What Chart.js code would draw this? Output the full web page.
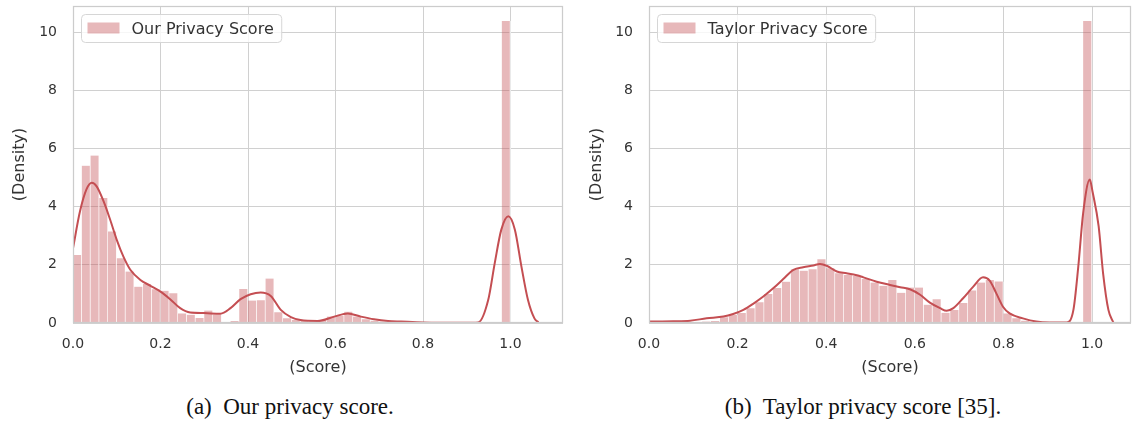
<!DOCTYPE html>
<html>
<head>
<meta charset="utf-8">
<script src="https://cdn.jsdelivr.net/npm/chart.js@4.4.1/dist/chart.umd.min.js"></script>
<style>
  body { margin: 0; background: #fff; width: 1133px; height: 428px; position: relative; overflow: hidden; }
  canvas { position: absolute; top: 0; }
  #ours { left: 0; }
  #taylor { left: 577px; }
  .cap { position: absolute; top: 395px; line-height: 24px; font-family: "Liberation Serif", serif; font-size: 23px;
         color: #111; white-space: nowrap; transform: translateX(-50%); }
</style>
</head>
<body>
<canvas id="ours" width="570" height="380"></canvas>
<canvas id="taylor" width="556" height="380"></canvas>
<div class="cap" style="left:290px">(a)&nbsp; Our privacy score.</div>
<div class="cap" style="left:863px">(b)&nbsp; Taylor privacy score [35].</div>
<script>
// histogram bins (centres, width 0.02)
const binCenters = [0.01,0.03,0.05,0.07,0.09,0.11,0.13,0.15,0.17,0.19,
                    0.21,0.23,0.25,0.27,0.29,0.31,0.33,0.35,0.37,0.39,
                    0.41,0.43,0.45,0.47,0.49,0.51,0.53,0.55,0.57,0.59,
                    0.61,0.63,0.65,0.67,0.69,0.71,0.73,0.75,0.77,0.79,
                    0.81,0.83,0.85,0.87,0.89,0.91,0.93,0.95,0.97,0.99];

const ourHist = [2.34,5.41,5.76,4.30,3.15,2.23,1.77,1.25,1.34,1.16,
                 1.11,1.02,0.33,0.28,0.17,0.43,0.29,0.02,0.07,1.17,
                 0.77,0.78,1.53,0.37,0.16,0.10,0.07,0.07,0.10,0.22,
                 0.24,0.39,0.22,0.13,0.08,0.05,0.03,0.02,0.01,0.01,
                 0,0,0,0,0,0,0,0,0,10.38];

const ourKdeX = [0.000,0.016,0.031,0.043,0.054,0.070,0.085,0.100,0.115,0.131,
                 0.154,0.177,0.200,0.222,0.245,0.268,0.299,0.337,0.360,0.383,
                 0.406,0.429,0.452,0.475,0.498,0.520,0.559,0.597,0.628,0.658,
                 0.688,0.720,0.750,0.800,0.900,0.926,0.949,0.964,0.979,0.995,
                 1.010,1.025,1.040,1.055,1.064];
const ourKdeY = [2.57,3.84,4.60,4.82,4.70,4.18,3.55,2.86,2.29,1.83,
                 1.48,1.28,1.08,0.82,0.51,0.36,0.34,0.32,0.51,0.82,
                 0.99,1.05,0.93,0.45,0.20,0.10,0.07,0.22,0.33,0.22,
                 0.13,0.07,0.05,0.02,0.01,0.02,0.79,2.06,3.21,3.67,
                 3.21,1.94,0.79,0.15,0.02];

const taylorHist = [0.01,0.01,0.02,0.02,0.03,0.03,0.05,0.07,0.20,0.28,
                    0.34,0.51,0.71,1.00,1.20,1.42,1.85,1.80,1.85,2.19,
                    1.88,1.71,1.65,1.62,1.51,1.39,1.28,1.48,1.04,1.22,
                    1.22,0.63,0.82,0.35,0.45,0.69,1.12,1.39,1.48,1.43,
                    0.33,0.16,0.08,0.03,0.01,0,0,0,0,10.38];

const taylorKdeX = [0.000,0.055,0.093,0.130,0.168,0.190,0.213,0.235,0.258,0.281,
                    0.303,0.326,0.348,0.371,0.386,0.401,0.424,0.446,0.469,0.484,
                    0.514,0.544,0.567,0.589,0.612,0.634,0.657,0.672,0.687,0.709,
                    0.732,0.754,0.769,0.784,0.799,0.814,0.844,0.874,0.904,0.943,
                    0.958,0.969,0.980,0.995,1.001,1.015,1.025,1.037,1.048];
const taylorKdeY = [0.05,0.06,0.08,0.16,0.22,0.31,0.45,0.66,0.91,1.20,
                    1.51,1.83,1.92,1.98,2.03,1.97,1.77,1.71,1.64,1.57,
                    1.42,1.31,1.23,1.16,0.97,0.70,0.51,0.42,0.51,0.85,
                    1.25,1.57,1.46,1.02,0.56,0.33,0.16,0.05,0.02,0.02,
                    0.45,1.94,3.78,4.93,4.53,3.32,1.71,0.45,0.02];

const xTicks = [0, 0.2, 0.4, 0.6, 0.8, 1.0];
const yTicks = [0, 2, 4, 6, 8, 10];

const red = 'rgb(196,78,82)';
const redFill = 'rgba(196,78,82,0.4)';
const gridColor = '#d0d0d0';
const textColor = '#333';

Chart.defaults.font.family = '"DejaVu Sans", sans-serif';

// axes frame on all four sides
const frame = {
  id: 'frame',
  afterDatasetsDraw(chart) {
    const { ctx, chartArea: a } = chart;
    ctx.save();
    ctx.strokeStyle = '#cccccc';
    ctx.lineWidth = 1.25;
    ctx.strokeRect(Math.round(a.left) + 0.5, Math.round(a.top) + 0.5,
                   Math.round(a.right - a.left) - 1, Math.round(a.bottom - a.top) - 1);
    ctx.restore();
  }
};

// matplotlib-like legend box in the upper left of the plot
const boxLegend = {
  id: 'boxLegend',
  afterDraw(chart) {
    const ds = chart.data.datasets.find(d => d.type === 'bar');
    const { ctx, chartArea: a } = chart;
    ctx.save();
    ctx.font = '16px "DejaVu Sans"';
    const tw = ctx.measureText(ds.label).width;
    const x = Math.round(a.left) + 8.5, y = Math.round(a.top) + 8.5, h = 28, w = 58 + tw;
    ctx.beginPath();
    ctx.roundRect(x, y, w, h, 4);
    ctx.fillStyle = 'rgba(255,255,255,0.8)';
    ctx.fill();
    ctx.strokeStyle = '#d6d6d6';
    ctx.lineWidth = 1;
    ctx.stroke();
    ctx.fillStyle = ds.backgroundColor;
    ctx.fillRect(x + 6, y + 8, 32, 11);
    ctx.fillStyle = textColor;
    ctx.textBaseline = 'middle';
    ctx.fillText(ds.label, x + 50, y + h / 2 + 1);
    ctx.restore();
  }
};

function makeChart(id, label, hist, kx, ky, xMax, yWidth, rightPad) {
  new Chart(document.getElementById(id), {
    type: 'bar',
    data: {
      datasets: [
        {
          type: 'line',
          label: label + ' KDE',
          data: kx.map((x, i) => ({ x: x, y: ky[i] })),
          borderColor: red,
          borderWidth: 2,
          pointRadius: 0,
          cubicInterpolationMode: 'monotone',
          order: 0
        },
        {
          type: 'bar',
          label: label,
          data: binCenters.map((x, i) => ({ x: x, y: hist[i] })),
          backgroundColor: redFill,
          borderColor: 'rgba(255,255,255,0.8)',
          borderWidth: { right: 1 },
          barPercentage: 1,
          categoryPercentage: 1,
          order: 1
        }
      ]
    },
    options: {
      responsive: false,
      animation: false,
      devicePixelRatio: 1,
      layout: { padding: { top: 6, right: rightPad, left: 0, bottom: 0 } },
      plugins: { legend: { display: false }, tooltip: { enabled: false } },
      scales: {
        x: {
          type: 'linear', min: 0, max: xMax, offset: false,
          grid: { color: gridColor, lineWidth: 1, drawTicks: false, offset: false },
          border: { display: false },
          ticks: { padding: 13, color: textColor, font: { size: 14 }, maxRotation: 0, autoSkip: false,
                   callback: v => v.toFixed(1) },
          afterBuildTicks: s => { s.ticks = xTicks.map(v => ({ value: v })); },
          afterFit: s => { s.height = 57; s.paddingLeft = 0; s.paddingRight = 0; },
          title: { display: true, text: '(Score)', color: textColor, font: { size: 16 }, padding: { top: 3, bottom: 3 } }
        },
        y: {
          min: 0, max: 10.9,
          grid: { color: gridColor, lineWidth: 1, drawTicks: false },
          border: { display: false },
          ticks: { padding: 16, color: textColor, font: { size: 14 }, callback: v => String(v) },
          afterBuildTicks: s => { s.ticks = yTicks.map(v => ({ value: v })); },
          afterFit: s => { s.width = yWidth; s.paddingTop = 0; s.paddingBottom = 0; },
          title: { display: true, text: '(Density)', color: textColor, font: { size: 16 }, padding: { top: 10, bottom: 0 } }
        }
      }
    },
    plugins: [frame, boxLegend]
  });
}

makeChart('ours', 'Our Privacy Score', ourHist, ourKdeX, ourKdeY, 1.12, 73, 7);
makeChart('taylor', 'Taylor Privacy Score', taylorHist, taylorKdeX, taylorKdeY, 1.088, 72, 2);
</script>
</body>
</html>
